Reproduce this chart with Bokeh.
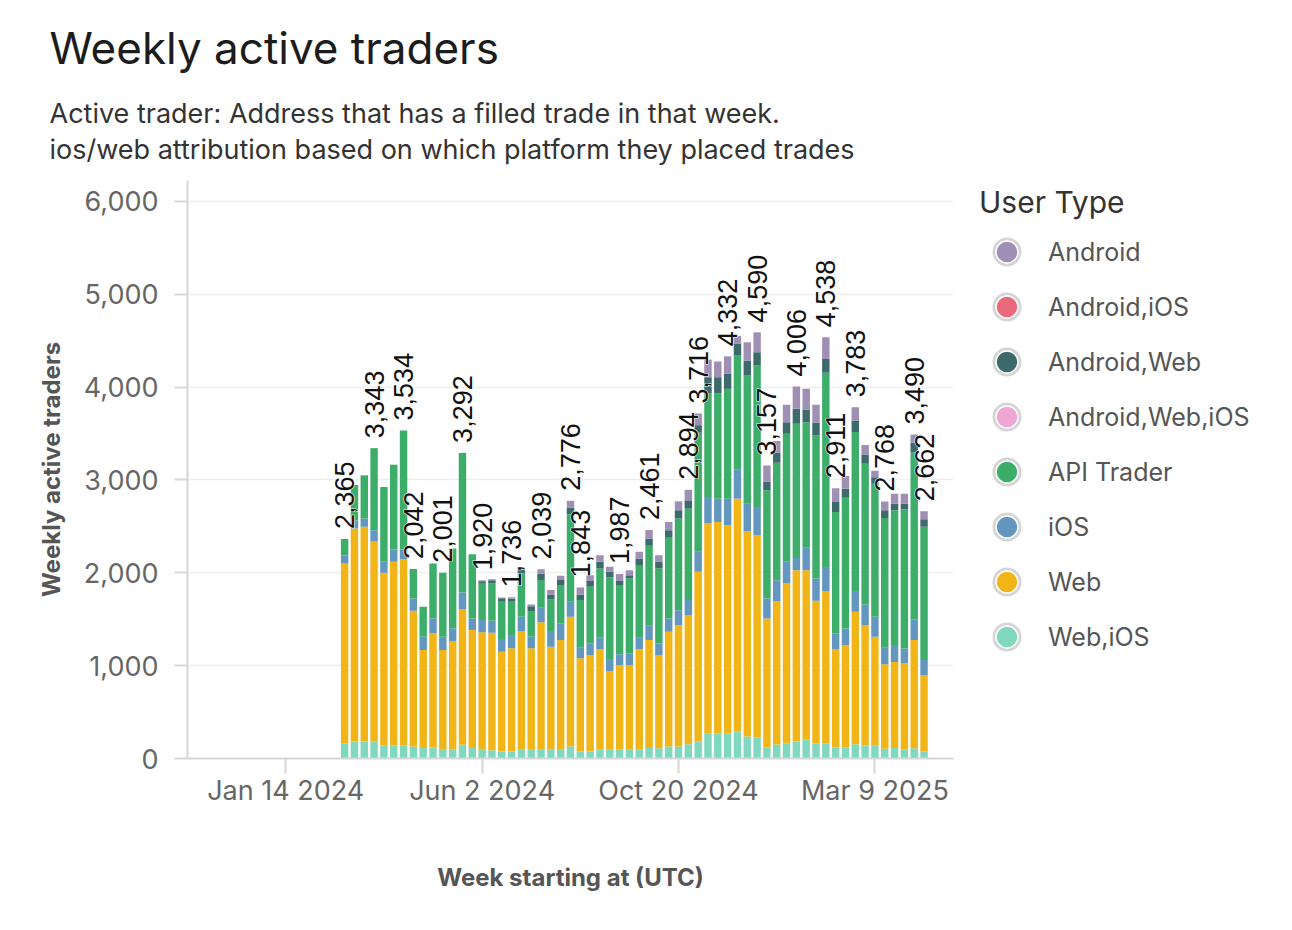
import numpy as np
import pandas as pd
from bokeh.plotting import figure
from bokeh.models import (ColumnDataSource, Range1d, FixedTicker, CustomJSTickFormatter,
                          NumeralTickFormatter, Title, Legend, LegendItem)
from bokeh.core.properties import value
from bokeh.embed import file_html
from bokeh.resources import INLINE

# ---------------- data ----------------
weeks = pd.date_range("2024-02-25", periods=60, freq="7D")

web_ios = [165, 183, 183, 183, 140, 140, 140, 130, 112, 119, 94, 100, 147, 112, 94, 90, 76, 76, 94, 94,
           94, 94, 94, 130, 76, 76, 94, 94, 94, 94, 94, 112, 111, 129, 129, 154, 183, 272, 272, 272,
           290, 236, 226, 118, 150, 165, 183, 205, 165, 165, 118, 118, 154, 140, 136, 104, 114, 100, 111, 76]
web = [1935, 2294, 2312, 2161, 1860, 1978, 2010, 1461, 1057, 1229, 1075, 1159, 1463, 1272, 1265, 1265, 1075, 1111, 1279, 1093,
       1373, 1111, 1183, 1397, 1003, 1039, 1086, 849, 914, 914, 1082, 1165, 1004, 1237, 1308, 1391, 1828, 2258, 2276, 2240,
       2509, 2212, 2179, 1391, 1545, 1720, 1846, 1824, 1535, 1635, 1061, 1104, 1427, 1297, 1176, 910, 926, 928, 1165, 817]
ios = [90, 89, 89, 115, 118, 133, 100, 133, 143, 161, 143, 143, 179, 125, 133, 129, 136, 143, 154, 125,
       157, 168, 179, 162, 115, 126, 122, 129, 114, 125, 126, 154, 125, 143, 161, 161, 215, 287, 251, 287,
       311, 297, 304, 215, 226, 233, 132, 240, 239, 264, 168, 179, 222, 223, 215, 179, 182, 158, 222, 168]
api_trader = [175, 380, 466, 884, 807, 914, 1284, 318, 323, 592, 689, 860, 1503, 691, 398, 402, 402, 359, 466, 276,
              298, 341, 412, 941, 513, 609, 745, 878, 746, 807, 774, 860, 806, 878, 986, 985, 1284, 1118, 1136, 1183,
              1230, 1380, 1524, 1165, 1265, 1380, 1444, 1354, 1541, 2090, 1309, 1409, 1713, 1516, 1433, 1398, 1452, 1498, 1802, 1434]
android_web_ios = [0] * 60
android_web = [0, 0, 0, 0, 0, 0, 0, 0, 0, 0, 0, 0, 0, 0, 20, 34, 36, 35, 37, 52,
               71, 53, 54, 70, 60, 61, 72, 61, 43, 35, 79, 79, 72, 72, 90, 90, 80, 172, 172, 161,
               130, 161, 143, 96, 108, 125, 162, 137, 136, 150, 107, 96, 125, 98, 70, 83, 71, 62, 100, 82]
android_ios = [0] * 60
android = [0, 0, 0, 0, 0, 0, 0, 0, 0, 0, 0, 0, 0, 0, 10, 12, 10, 12, 25, 20,
           46, 47, 46, 76, 76, 64, 71, 54, 76, 54, 71, 91, 72, 89, 96, 113, 126, 190, 169, 189,
           80, 197, 214, 172, 126, 187, 239, 222, 194, 234, 148, 137, 142, 102, 70, 94, 108, 107, 90, 85]

# bars that carry a total label
label_idx = [0, 3, 6, 7, 10, 12, 14, 17, 20, 23, 24, 28, 31, 35, 36, 39, 42, 43, 46, 49, 50, 52, 55, 58, 59]

tick_dates = ["2024-01-14", "2024-06-02", "2024-10-20", "2025-03-09"]

stack_keys = ["web_ios", "web", "ios", "api_trader", "android_web_ios", "android_web", "android_ios", "android"]
stack_names = ["Web,iOS", "Web", "iOS", "API Trader", "Android,Web,iOS", "Android,Web", "Android,iOS", "Android"]
stack_colors = ["#80d8bf", "#f1b517", "#6497c0", "#3dae6a", "#eea6d3", "#3d6b6b", "#e96a7b", "#9f8fb4"]

# ---------------- figure ----------------
src = ColumnDataSource(dict(week=weeks, web_ios=web_ios, web=web, ios=ios, api_trader=api_trader,
                            android_web_ios=android_web_ios, android_web=android_web,
                            android_ios=android_ios, android=android))

FONT = "Inter"
p = figure(frame_width=766, frame_height=578,
           x_range=Range1d(pd.Timestamp("2023-11-05"), pd.Timestamp("2025-05-04")),
           y_range=Range1d(0, 6226),
           x_axis_type="datetime",
           output_backend="svg", toolbar_location=None, title=None,
           min_border_left=187, min_border_top=180, min_border_right=330, min_border_bottom=10)
p.outline_line_color = None
p.background_fill_color = "white"

day_ms = 24 * 3600 * 1000
p.vbar_stack(stack_keys, x="week", width=5.3 * day_ms, color=stack_colors, source=src, line_color=None)

totals = [sum(v) for v in zip(web_ios, web, ios, api_trader, android_web_ios, android_web, android_ios, android)]
lab_src = ColumnDataSource(dict(week=[weeks[i] for i in label_idx],
                                total=[totals[i] for i in label_idx],
                                text=[f"{totals[i]:,}" for i in label_idx]))
# white halo layer, then the dark label on top
p.text(x="week", y="total", text="text", source=lab_src, angle=np.pi / 2,
       text_align="left", text_baseline="middle", y_offset=-10,
       text_font=value("Liberation Sans"), text_font_size="27px", text_color="white",
       text_outline_color="white")
p.text(x="week", y="total", text="text", source=lab_src, angle=np.pi / 2,
       text_align="left", text_baseline="middle", y_offset=-10,
       text_font=value("Liberation Sans"), text_font_size="27px", text_color="#111111")

# axes
xa = p.xaxis[0]
xa.ticker = FixedTicker(ticks=[pd.Timestamp(d).value / 1e6 for d in tick_dates])
xa.formatter = CustomJSTickFormatter(code="""
const d = new Date(tick);
const m = ['Jan','Feb','Mar','Apr','May','Jun','Jul','Aug','Sep','Oct','Nov','Dec'];
return m[d.getUTCMonth()] + ' ' + d.getUTCDate() + ' ' + d.getUTCFullYear();
""")
xa.axis_label = "Week starting at (UTC)"
ya = p.yaxis[0]
ya.ticker = FixedTicker(ticks=[0, 1000, 2000, 3000, 4000, 5000, 6000])
ya.formatter = NumeralTickFormatter(format="0,0")
ya.axis_label = "Weekly active traders"

for ax in (xa, ya):
    ax.axis_line_color = "#d6d6d6"
    ax.axis_line_width = 2
    ax.major_tick_line_color = "#d6d6d6"
    ax.major_tick_line_width = 2
    ax.minor_tick_line_color = None
    ax.major_tick_in = 0
    ax.major_label_text_font = FONT
    ax.major_label_text_font_size = "27px"
    ax.major_label_text_color = "#666666"
    ax.axis_label_text_font = FONT
    ax.axis_label_text_font_size = "24px"
    ax.axis_label_text_font_style = "bold"
    ax.axis_label_text_color = "#555555"
xa.major_tick_out = 15
xa.major_label_standoff = 0
xa.axis_label_standoff = 53
ya.major_tick_out = 13
ya.major_label_standoff = 16
ya.axis_label_standoff = 15

p.xgrid.visible = False
p.ygrid.grid_line_color = "#eeeeee"
p.ygrid.grid_line_width = 1.5

# titles (added nearest-first)
p.add_layout(Title(text="Active trader: Address that has a filled trade in that week.\n"
                        "ios/web attribution based on which platform they placed trades",
                   text_font=FONT, text_font_size="27px", text_font_style="normal",
                   text_line_height=1.1,
                   text_color="#333333", align="left", offset=-138, standoff=29), "above")
p.add_layout(Title(text="Weekly active traders",
                   text_font=FONT, text_font_size="44px", text_font_style="normal",
                   text_color="#1c1c1c", align="left", offset=-138, standoff=11), "above")

# legend with ringed circles (legend-only renderers sit below the visible y range)
legend_order = ["Android", "Android,iOS", "Android,Web", "Android,Web,iOS", "API Trader", "iOS", "Web", "Web,iOS"]
items = []
for name in legend_order:
    c = stack_colors[stack_names.index(name)]
    ring = p.scatter(x=[weeks[0]], y=[-1000], marker="circle", size=10, fill_color=c,
                     line_color="#d5d5d5", line_width=7)
    dot = p.scatter(x=[weeks[0]], y=[-1000], marker="circle", size=10, fill_color=c,
                    line_color="white", line_width=1.5)
    items.append(LegendItem(label=name, renderers=[ring, dot]))
legend = Legend(items=items, title="User Type", location=(26, 94),
                glyph_width=55, glyph_height=55, label_height=30, spacing=0,
                label_standoff=14, padding=0, margin=0,
                label_text_font=FONT, label_text_font_size="25px", label_text_color="#555555",
                title_text_font=FONT, title_text_font_size="30px", title_text_font_style="normal",
                title_text_color="#333333", title_standoff=4,
                border_line_color=None, background_fill_alpha=0)
p.add_layout(legend, "right")

open("out.html", "w").write(file_html(p, INLINE))
